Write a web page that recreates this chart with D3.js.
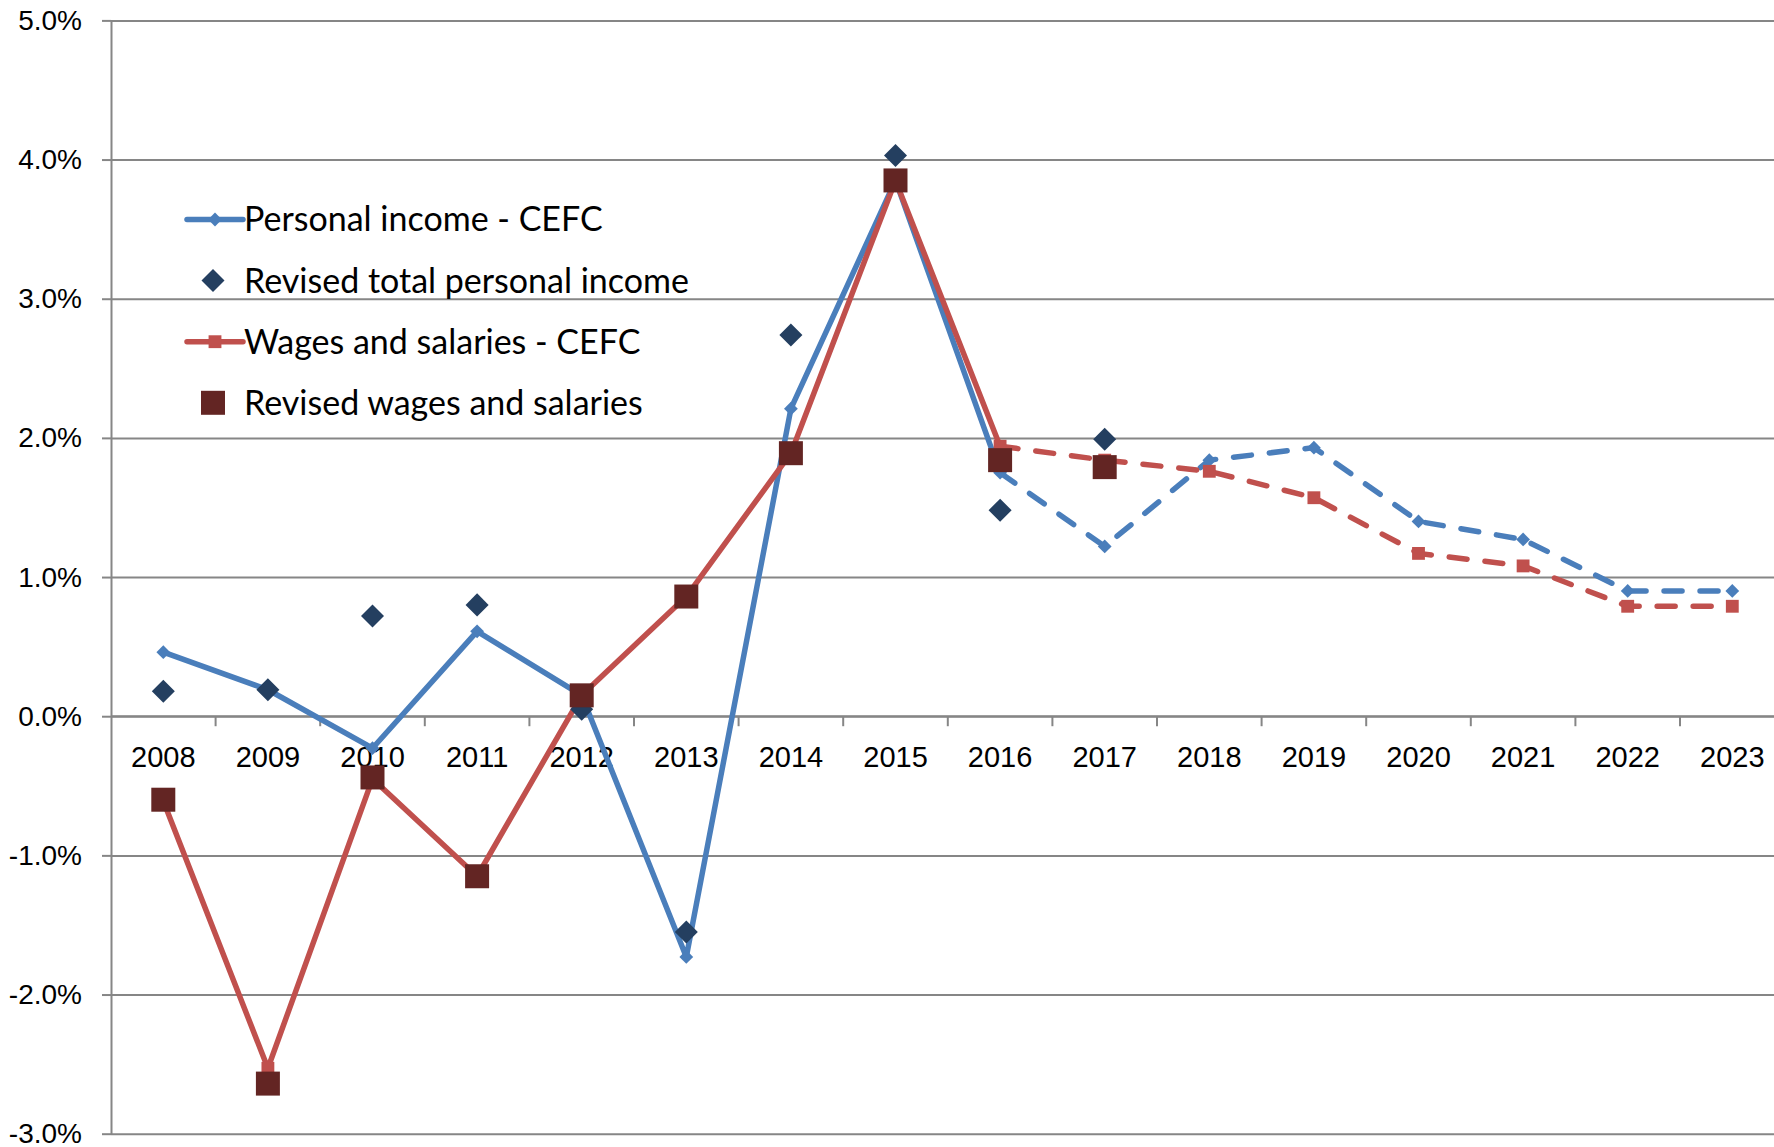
<!DOCTYPE html>
<html>
<head>
<meta charset="utf-8">
<script src="https://cdn.jsdelivr.net/npm/d3@7"></script>
<style>
  body { margin: 0; background: #fff; }
  svg { display: block; font-family: Lato, "Liberation Sans", Arial, sans-serif; }
  .axis path, .axis line { stroke: #868686; stroke-width: 2; }
  .axis text { fill: #000; font-size: 28px; }
  .x-axis text { font-size: 29px; }
  .grid-line { stroke: #868686; stroke-width: 2; }
</style>
</head>
<body>
<div id="chart"></div>
<script>
const years = ["2008", "2009", "2010", "2011", "2012", "2013", "2014", "2015",
  "2016", "2017", "2018", "2019", "2020", "2021", "2022", "2023"];
const forecastFrom = "2016";

// growth rates, percent
const personalIncomeCEFC = [0.46, 0.19, -0.23, 0.61, 0.15, -1.73, 2.21, 3.85,
  1.75, 1.22, 1.84, 1.93, 1.40, 1.27, 0.90, 0.90];
const revisedPersonalIncome = [0.18, 0.19, 0.72, 0.80, 0.05, -1.55, 2.74, 4.03, 1.48, 1.99];
const wagesCEFC = [-0.61, -2.53, -0.45, -1.15, 0.15, 0.86, 1.89, 3.85,
  1.94, 1.84, 1.76, 1.57, 1.17, 1.08, 0.79, 0.79];
const revisedWages = [-0.60, -2.64, -0.44, -1.15, 0.15, 0.86, 1.89, 3.85, 1.84, 1.79];

const yTicks = [-3, -2, -1, 0, 1, 2, 3, 4, 5];

const legendItems = [
  { label: "Personal income - CEFC", kind: "line", color: "#4a7ebb", marker: "diamondSmall" },
  { label: "Revised total personal income", kind: "marker", color: "#243f60", marker: "diamond" },
  { label: "Wages and salaries - CEFC", kind: "line", color: "#c0504d", marker: "squareSmall" },
  { label: "Revised wages and salaries", kind: "marker", color: "#632523", marker: "square" },
];

const width = 1774, height = 1147;
const margin = { top: 20.4, left: 111, bottom: 13.3 };
const pct = d3.formatLocale({ decimal: ".", thousands: ",", grouping: [3], currency: ["", ""], minus: "-" }).format(".1%");

const svg = d3.select("#chart").append("svg")
  .attr("width", width).attr("height", height);

const x = d3.scaleBand().domain(years).range([margin.left, margin.left + 16 * 104.6]);
const y = d3.scaleLinear().domain([-3, 5]).range([height - margin.bottom, margin.top]);
const cx = (yr) => x(yr) + x.bandwidth() / 2;

const markerPath = {
  diamond: d3.symbol(d3.symbolSquare, 265)(),
  diamondSmall: d3.symbol(d3.symbolSquare, 95)(),
  square: d3.symbol(d3.symbolSquare, 576)(),
  squareSmall: d3.symbol(d3.symbolSquare, 165)(),
};
const markerRotate = { diamond: 45, diamondSmall: 45, square: 0, squareSmall: 0 };

// gridlines
svg.append("g")
  .attr("transform", `translate(${margin.left},0)`)
  .call(d3.axisLeft(y).tickValues(yTicks).tickSize(-(width - margin.left)).tickFormat(""))
  .call((g) => g.select(".domain").remove())
  .selectAll("line").attr("class", "grid-line");

// y axis
svg.append("g").attr("class", "axis")
  .attr("transform", `translate(${margin.left},0)`)
  .call(d3.axisLeft(y).tickValues(yTicks).tickSize(9).tickSizeOuter(0).tickPadding(20)
    .tickFormat((d) => pct(d / 100)));

// x axis on the zero line, ticks at category boundaries
const xAxis = svg.append("g").attr("class", "axis x-axis")
  .attr("transform", `translate(0,${y(0)})`)
  .call(d3.axisBottom(x).tickSize(0).tickSizeOuter(0).tickPadding(30));
xAxis.select(".domain").attr("d", `M${margin.left},0H${width}`);
xAxis.selectAll(".boundary")
  .data(years.slice(1))
  .join("line")
  .attr("class", "boundary")
  .attr("x1", (d) => x(d)).attr("x2", (d) => x(d))
  .attr("y1", 0).attr("y2", 10);

function seriesPoints(values) {
  return values.map((v, i) => ({ year: years[i], value: v }));
}

const line = d3.line().x((d) => cx(d.year)).y((d) => y(d.value));
const splitAt = years.indexOf(forecastFrom);

function drawCEFC(values, color, marker) {
  const pts = seriesPoints(values);
  const g = svg.append("g");
  g.append("path").datum(pts.slice(0, splitAt + 1))
    .attr("d", line).attr("fill", "none").attr("stroke", color)
    .attr("stroke-width", 5.5).attr("stroke-linejoin", "round").attr("stroke-linecap", "round");
  g.append("path").datum(pts.slice(splitAt))
    .attr("d", line).attr("fill", "none").attr("stroke", color)
    .attr("stroke-width", 5.5).attr("stroke-dasharray", "18,18").attr("stroke-linecap", "round");
  g.selectAll(".m").data(pts).join("path")
    .attr("d", markerPath[marker]).attr("fill", color)
    .attr("transform", (d) => `translate(${cx(d.year)},${y(d.value)}) rotate(${markerRotate[marker]})`);
}

function drawRevised(values, color, marker) {
  svg.append("g").selectAll("path").data(seriesPoints(values)).join("path")
    .attr("d", markerPath[marker]).attr("fill", color)
    .attr("transform", (d) => `translate(${cx(d.year)},${y(d.value)}) rotate(${markerRotate[marker]})`);
}

drawCEFC(personalIncomeCEFC, "#4a7ebb", "diamondSmall");
drawCEFC(wagesCEFC, "#c0504d", "squareSmall");
drawRevised(revisedPersonalIncome, "#243f60", "diamond");
drawRevised(revisedWages, "#632523", "square");

// legend
const legend = svg.append("g").attr("transform", "translate(187,219.5)");
const rows = legend.selectAll("g").data(legendItems).join("g")
  .attr("transform", (d, i) => `translate(0,${i * 61.1})`);
rows.filter((d) => d.kind === "line").append("line")
  .attr("x1", 0).attr("x2", 56).attr("stroke", (d) => d.color)
  .attr("stroke-width", 5.5).attr("stroke-linecap", "round");
rows.append("path")
  .attr("d", (d) => markerPath[d.marker]).attr("fill", (d) => d.color)
  .attr("transform", (d) => `translate(${d.kind === "line" ? 28 : 26},0) rotate(${markerRotate[d.marker]})`);
rows.append("text")
  .attr("x", 57).attr("dy", "0.35em")
  .attr("font-size", 34)
  .text((d) => d.label);
</script>
</body>
</html>
